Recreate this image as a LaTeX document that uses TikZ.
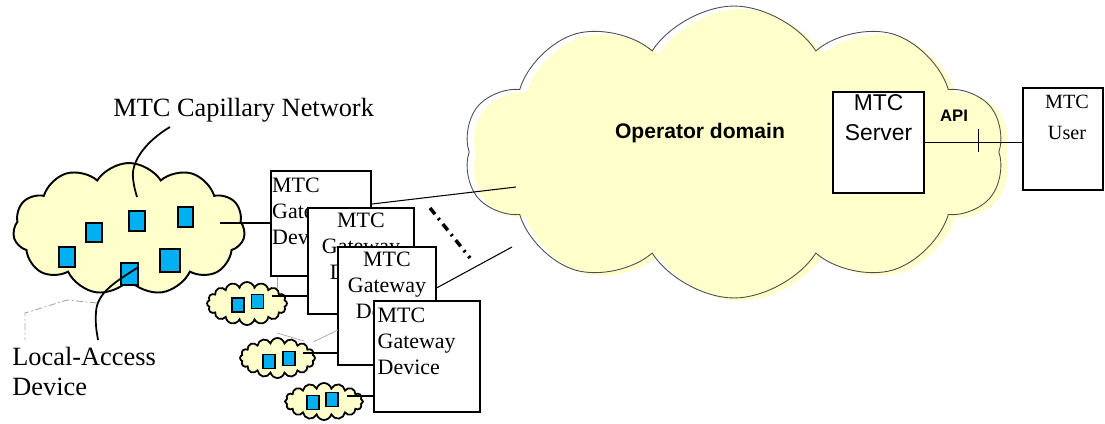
\documentclass[tikz,border=0pt]{standalone}
\usepackage{fontspec}
\setmainfont{Liberation Serif}
\setsansfont{Liberation Sans}
\usetikzlibrary{shapes.symbols}
\definecolor{NetCream}{HTML}{FFFFCC}
\definecolor{NetBlue}{HTML}{00B0F0}
\definecolor{NetRim}{HTML}{4D4D4D}
\definecolor{NetFaint}{HTML}{A6A6A6}
\tikzset{
  every node/.style={text=black},
  capcloud/.style={cloud, cloud puffs=11, cloud puff arc=115, cloud ignores aspect, draw=black, line width=1.1pt, fill=NetCream, inner sep=0pt},
  minicloud/.style={cloud, cloud puffs=16, cloud puff arc=150, cloud ignores aspect, draw=black, line width=1pt, fill=NetCream, inner sep=0pt},
  opshade/.style={cloud, cloud puffs=10, cloud puff arc=115, cloud ignores aspect, fill=NetCream, minimum width=10.8cm, minimum height=5.84cm},
  opcloud/.style={cloud, cloud puffs=10, cloud puff arc=115, cloud ignores aspect, draw=NetRim, line width=0.5pt, minimum width=10.8cm, minimum height=5.84cm},
  device/.style={draw=black, line width=0.9pt, fill=NetBlue, inner sep=0pt},
  gwbox/.style={draw=black, line width=0.8pt, fill=white, inner sep=0pt},
  gwtext/.style={font=\fontsize{12.5}{14.8}\selectfont, inner xsep=0.03cm, inner ysep=0.1cm},
  hostbox/.style={draw=black, line width=0.8pt, fill=white, inner sep=0pt},
  link/.style={draw=black, line width=0.6pt},
  pointer/.style={draw=black, line width=1pt},
  faint/.style={draw=NetFaint, line width=0.4pt},
  leader/.style={draw=NetFaint, line width=0.5pt, dash pattern=on 4pt off 1.5pt on 1pt off 1.5pt},
  ellipsis/.style={draw=black, line width=2pt, dash pattern=on 4.5pt off 3pt on 1.2pt off 3pt},
  caption/.style={font=\fontsize{15}{17}\selectfont, inner sep=0pt},
}

\begin{document}
\begin{tikzpicture}[x=0.02cm,y=-0.02cm]
  \useasboundingbox (0,0) rectangle (1105,423);

  % Operator domain: offset fill under a thin outline
  \node[opshade] (opfill) at (741,155) {};
  \node[opcloud] (opdom) at (734,152) {};
  \node[font=\sffamily\bfseries\fontsize{12}{14}\selectfont, anchor=base] (oplabel) at (700,138) {Operator domain};
  \coordinate (opin1) at (516,187);
  \coordinate (opin2) at (512,247);

  % Server inside the operator domain, user outside
  \node[hostbox, minimum width=1.82cm, minimum height=2.02cm] (server) at (878.5,142.5) {};
  \node[font=\sffamily\fontsize{13}{17}\selectfont, align=center, anchor=north, inner sep=0pt, yshift=-0.06cm] at (server.north) {MTC\\Server};
  \node[hostbox, minimum width=1.6cm, minimum height=2.04cm] (user) at (1063,139) {};
  \node[font=\fontsize{11.5}{18}\selectfont, align=center, anchor=north, inner sep=0pt, xshift=0.08cm, yshift=-0.14cm] at (user.north) {MTC\\User};
  \draw[link] (server.east) -- (server.east -| user.west);
  \node[font=\sffamily\bfseries\fontsize{9.5}{11}\selectfont, inner sep=0pt] (api) at (954,116) {API};
  \coordinate (apitick) at (978,141);
  \draw[link, line width=0.5pt] (apitick) ++(0,-12) -- ++(0,23);

  % Capillary network with its devices
  \node[capcloud, minimum width=4.64cm, minimum height=2.64cm] (capnet) at (129,229) {};
  \foreach \x/\y/\w/\h [count=\i] in {94/232.5/16/19, 137/221/16/20, 185.5/217/15/20, 67/257/16/20, 129.5/274/17/22, 170/260.5/20/23}
    \node[device, minimum width=\w*0.02cm, minimum height=\h*0.02cm] (dev\i) at (\x,\y) {};

  % Small capillary networks, two devices each
  \node[minicloud, minimum width=1.6cm, minimum height=0.86cm] (sc1) at (247,303.5) {};
  \node[minicloud, minimum width=1.5cm, minimum height=0.8cm] (sc2) at (277.5,358) {};
  \node[minicloud, minimum width=1.56cm, minimum height=0.74cm] (sc3) at (324,401.5) {};
  \foreach \x/\y [count=\i] in {238/305, 257.5/301.5, 269/361.5, 289/358.5, 313/402.5, 332/399.5}
    \node[device, line width=0.8pt, minimum width=0.24cm, minimum height=0.28cm] (sq\i) at (\x,\y) {};

  % Stacked gateway devices
  \node[gwbox, minimum width=2cm, minimum height=2.1cm] (gw1) at (321,223.5) {};
  \node[gwtext, anchor=north west, align=left, inner ysep=0.14cm] at (gw1.north west) {MTC\\Gateway\\Device};
  \node[gwbox, minimum width=2.12cm, minimum height=2.12cm] (gw2) at (361,261) {};
  \node[gwtext, anchor=north, align=center] at (gw2.north) {MTC\\Gateway\\Device};
  \node[gwbox, minimum width=1.96cm, minimum height=2.36cm] (gw3) at (387,306) {};
  \node[gwtext, anchor=north, align=center] at (gw3.north) {MTC\\Gateway\\Device};
  \node[gwbox, minimum width=2.12cm, minimum height=2.22cm] (gw4) at (427,356.5) {};
  \node[gwtext, anchor=north west, align=left, inner xsep=0.08cm, inner ysep=0.14cm] at (gw4.north west) {MTC\\Gateway\\Device};

  % Links from the capillary networks to the gateways
  \coordinate (capout) at (220,223);
  \draw[link] (capout) -- (capout -| gw1.west);
  \coordinate (sc1out) at (272,296);
  \draw[link] (sc1out) -- (sc1out -| gw2.west);
  \coordinate (sc2out) at (303,353);
  \draw[link] (sc2out) -- (sc2out -| gw3.west);
  \coordinate (sc3out) at (347,396);
  \draw[link] (sc3out) -- (sc3out -| gw4.west);
  \coordinate (sc1top) at (277,289);
  \draw[faint] (sc1top) -- (sc1top |- gw1.south);
  \draw[faint] (277,333) -- (304,341);
  \draw[faint] (313,342) -- (338,330);

  % Gateways up into the operator domain
  \draw[link] (gw1.21) -- (opin1);
  \draw[link] (gw3.20) -- (opin2);
  \draw[ellipsis] (430,208) -- (470,258);

  % Captions and their pointers
  \node[caption, anchor=base west] (caplabel) at (113,116) {MTC Capillary Network};
  \coordinate (captail) at (170,127);
  \coordinate (caphead) at (137,197);
  \draw[pointer] (captail) .. controls (148,140) and (131,160) .. (133,178) .. controls (134,188) and (136,193) .. (caphead);
  \node[caption, anchor=north west, align=left] (ladlabel) at (12,347) {Local-Access\\Device};
  \coordinate (ladhead) at (137,268);
  \coordinate (ladtail) at (98,340);
  \draw[pointer] (ladhead) .. controls (115,282) and (97,293) .. (96,312) .. controls (95,325) and (97,333) .. (ladtail);
  \draw[leader] (97,303) -- (67,300) -- (25,313) -- (25,340);
\end{tikzpicture}
\end{document}
